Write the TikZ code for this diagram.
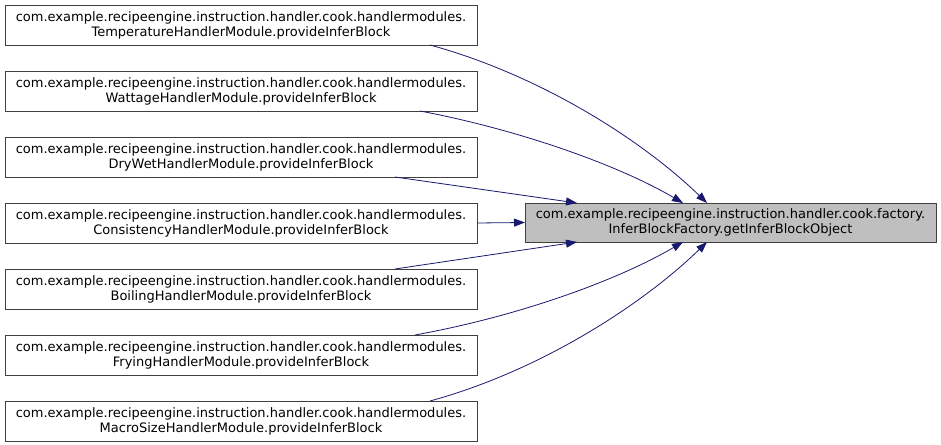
\documentclass[tikz,border=0pt]{standalone}
\usepackage{fontspec}
\setmainfont{DejaVu Sans}
\usetikzlibrary{arrows.meta, calc}

\definecolor{edgeblue}{HTML}{191970}
\definecolor{boxgray}{HTML}{BFBFBF}
\definecolor{linegray}{HTML}{404040}

\tikzset{
  fnbox/.style={draw=linegray, line width=0.9pt, fill=white, minimum width=472pt, minimum height=40pt,
    inner sep=0pt, outer sep=0pt, align=center, font=\fontsize{13pt}{15pt}\selectfont},
  callee/.style={fnbox, fill=boxgray, minimum width=411pt, minimum height=39pt},
  call/.style={draw=edgeblue, line width=0.8pt, -{Triangle[length=11pt, width=8pt]}}
}

\begin{document}
\begin{tikzpicture}[x=1pt, y=1pt]
  \useasboundingbox (0,0) rectangle (941,444);
  % aufrufende Module links
  \node[fnbox] (temp) at (241,419) {com.example.recipeengine.instruction.handler.cook.handlermodules.\\TemperatureHandlerModule.provideInferBlock};
  \node[fnbox] (watt) at (241,353) {com.example.recipeengine.instruction.handler.cook.handlermodules.\\WattageHandlerModule.provideInferBlock};
  \node[fnbox] (drywet) at (241,287) {com.example.recipeengine.instruction.handler.cook.handlermodules.\\DryWetHandlerModule.provideInferBlock};
  \node[fnbox] (consist) at (241,221) {com.example.recipeengine.instruction.handler.cook.handlermodules.\\ConsistencyHandlerModule.provideInferBlock};
  \node[fnbox] (boil) at (241,155) {com.example.recipeengine.instruction.handler.cook.handlermodules.\\BoilingHandlerModule.provideInferBlock};
  \node[fnbox] (fry) at (241,89) {com.example.recipeengine.instruction.handler.cook.handlermodules.\\FryingHandlerModule.provideInferBlock};
  \node[fnbox] (macro) at (241,23) {com.example.recipeengine.instruction.handler.cook.handlermodules.\\MacroSizeHandlerModule.provideInferBlock};
  % aufgerufene Funktion
  \node[callee] (factory) at (730.5,221.5) {com.example.recipeengine.instruction.handler.cook.factory.\\InferBlockFactory.getInferBlockObject};

  % Aufrufe
  \draw[call] ($(temp.south east)+(-47,0)$) .. controls +(110,-30) and +(-65,63) .. ($(factory.north west)+(182,0)$);
  \draw[call] ($(watt.south east)+(-57,0)$) .. controls +(100,-19) and +(-65,38) .. ($(factory.north west)+(158,0)$);
  \draw[call] ($(drywet.south east)+(-82,0)$) -- ($(factory.north west)+(52,0)$);
  \draw[call] (consist.east) -- (factory.west);
  \draw[call] ($(boil.north east)+(-82,0)$) -- ($(factory.south west)+(52,0)$);
  \draw[call] ($(fry.north east)+(-62,0)$) .. controls +(105,19) and +(-65,-38) .. ($(factory.south west)+(158,0)$);
  \draw[call] ($(macro.north east)+(-47,0)$) .. controls +(110,30) and +(-65,-63) .. ($(factory.south west)+(182,0)$);
\end{tikzpicture}
\end{document}
